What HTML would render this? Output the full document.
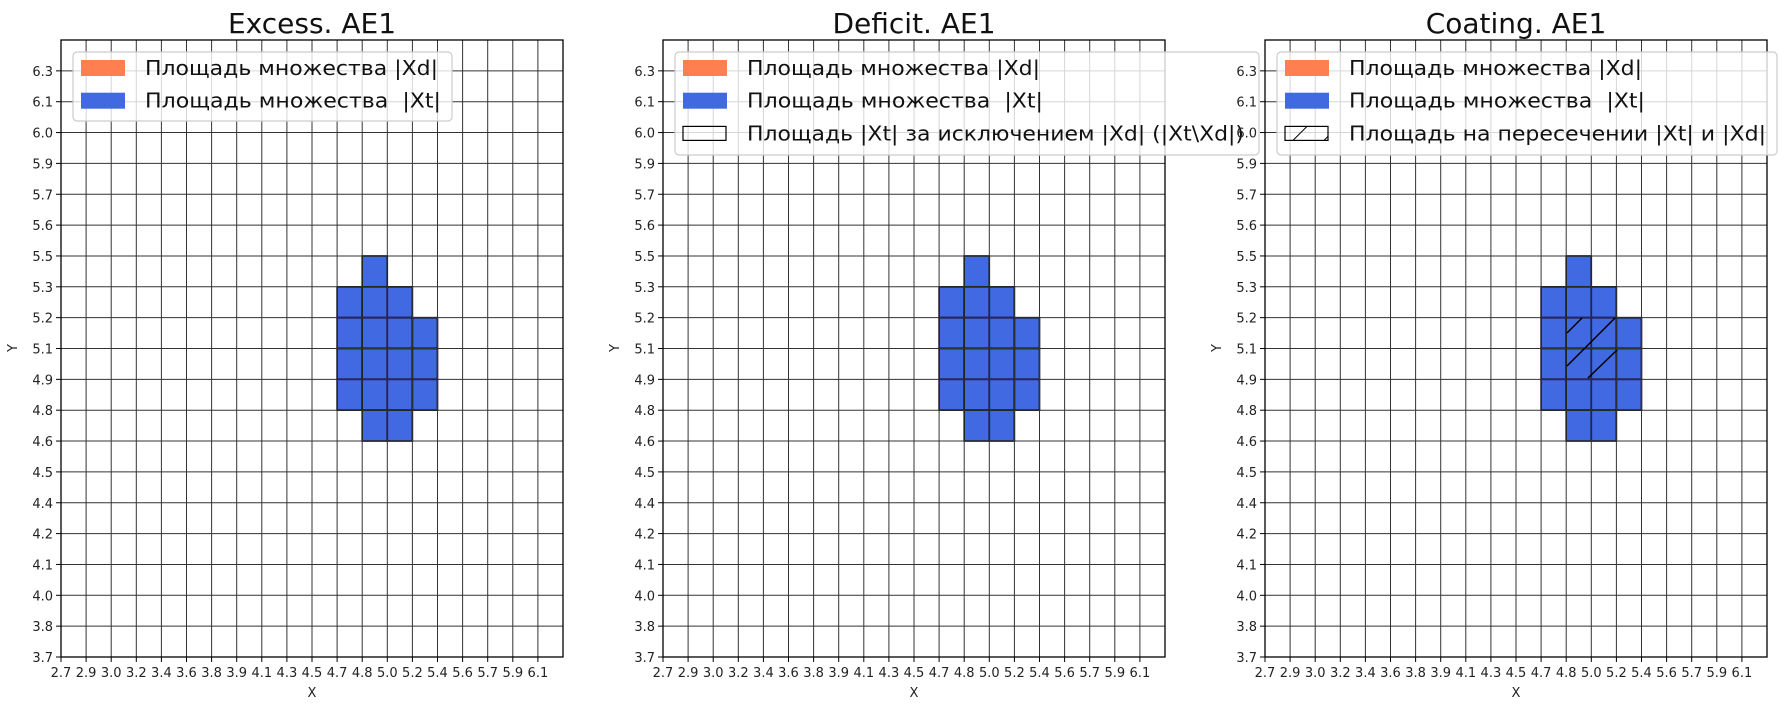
<!DOCTYPE html>
<html><head><meta charset="utf-8"><style>
html,body{margin:0;padding:0;background:#fff;}
svg{display:block;font-family:"DejaVu Sans","Liberation Sans",sans-serif;}
</style></head><body>
<svg id="s" width="1787" height="709" xmlns="http://www.w3.org/2000/svg"></svg>
<script>
(function(){
const s=document.getElementById('s');const NS='http://www.w3.org/2000/svg';
function el(t,a,txt){const e=document.createElementNS(NS,t);for(const k in a)e.setAttribute(k,a[k]);if(txt!==undefined)e.textContent=txt;s.appendChild(e);return e;}
const W=502/20,H=617/20,T0=40,B0=657;
const xl=['2.7','2.9','3.0','3.2','3.4','3.6','3.8','3.9','4.1','4.3','4.5','4.7','4.8','5.0','5.2','5.4','5.6','5.7','5.9','6.1'];
const yl=['6.3','6.1','6.0','5.9','5.7','5.6','5.5','5.3','5.2','5.1','4.9','4.8','4.6','4.5','4.4','4.2','4.1','4.0','3.8','3.7'];
const cells=[[7,12],[8,11],[8,12],[8,13],[9,11],[9,12],[9,13],[9,14],[10,11],[10,12],[10,13],[10,14],[11,11],[11,12],[11,13],[11,14],[12,12],[12,13]];
const titles=['Excess. AE1','Deficit. AE1','Coating. AE1'];
const XT='Площадь множества \u00a0|Xt|';
const legs=[
 {w:379,items:[['c','Площадь множества |Xd|',293],['b',XT,296]]},
 {w:584,items:[['c','Площадь множества |Xd|',293],['b',XT,296],['e','Площадь |Xt| за исключением |Xd| (|Xt\\Xd|)',497]]},
 {w:500,items:[['c','Площадь множества |Xd|',293],['b',XT,296],['h','Площадь на пересечении |Xt| и |Xd|',417]]}];
for(let p=0;p<3;p++){
 const L=61+p*602,R=L+502;
 for(const [r,c] of cells) el('rect',{x:L+c*W,y:T0+r*H,width:W,height:H,fill:'#4169e1',stroke:'#000','stroke-width':1.6});
 for(let i=1;i<20;i++){el('line',{x1:L+i*W,x2:L+i*W,y1:T0,y2:B0,stroke:'#333','stroke-width':1});el('line',{x1:L,x2:R,y1:T0+i*H,y2:T0+i*H,stroke:'#333','stroke-width':1});}
 if(p==2){
  const ls=[[1567,333,1582,318],[1567,366,1615,318],[1588,378,1617,350]];
  for(const l of ls) el('line',{x1:l[0],y1:l[1],x2:l[2],y2:l[3],stroke:'#000','stroke-width':1.5});
 }
 el('rect',{x:L,y:T0,width:502,height:617,fill:'none',stroke:'#000','stroke-width':1.3});
 for(let i=0;i<20;i++){
  const x=L+i*W;el('line',{x1:x,x2:x,y1:B0,y2:B0+5,stroke:'#000'});
  el('text',{x:x,y:677,'font-size':13,'text-anchor':'middle',fill:'#222'},xl[i]);
  const y=T0+(i+1)*H;el('line',{x1:L-5,x2:L,y1:y,y2:y,stroke:'#000'});
  el('text',{x:L-8,y:y+5,'font-size':13,'text-anchor':'end',fill:'#222'},yl[i]);
 }
 el('text',{x:L+251,y:697,'font-size':13,'text-anchor':'middle',fill:'#222'},'X');
 el('text',{x:0,y:0,'font-size':13,'text-anchor':'middle',fill:'#222',transform:'translate('+(L-44)+',348) rotate(-90)'},'Y');
 el('text',{x:L+251,y:33,'font-size':28,'text-anchor':'middle',fill:'#111'},titles[p]);
 const lg=legs[p],lx=L+12,n=lg.items.length;
 el('rect',{x:lx,y:52,width:lg.w,height:n==2?69:103,rx:4,fill:'rgba(255,255,255,0.8)',stroke:'#ccc','stroke-width':1.2});
 lg.items.forEach(function(it,k){
  const cy=68+k*32.7;
  if(it[0]=='c')el('rect',{x:lx+8,y:cy-8,width:44,height:16,fill:'#ff7f50'});
  else if(it[0]=='b')el('rect',{x:lx+8,y:cy-8,width:44,height:16,fill:'#4169e1'});
  else{el('rect',{x:lx+8,y:cy-7,width:43,height:14,fill:'none',stroke:'#000','stroke-width':1.2});
   if(it[0]=='h'){el('line',{x1:lx+16,y1:cy+7,x2:lx+30,y2:cy-7,stroke:'#000'});el('line',{x1:lx+47,y1:cy+7,x2:lx+51,y2:cy+3,stroke:'#000'});}}
  el('text',{x:lx+72,y:cy+7,'font-size':20,fill:'#111',textLength:it[2],lengthAdjust:'spacingAndGlyphs'},it[1]);
 });
}
})();
</script>
</body></html>
